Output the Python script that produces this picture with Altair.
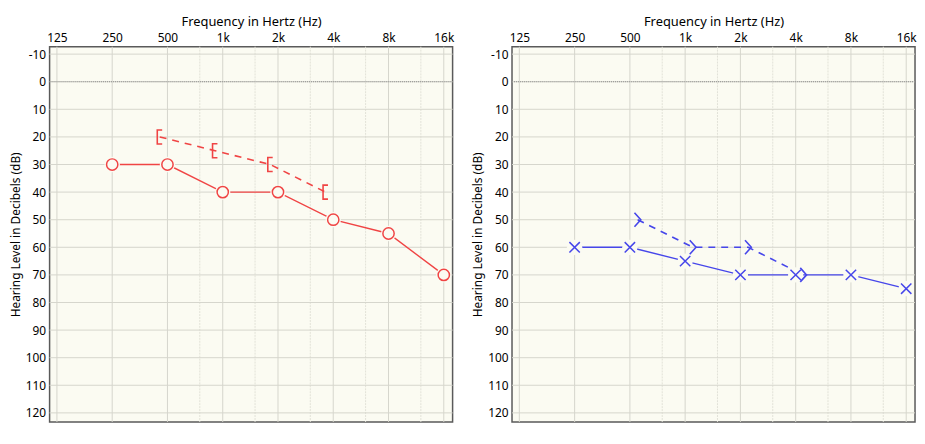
import altair as alt
import pandas as pd

# ---- data ----
FREQ_TICKS = [125, 250, 500, 1000, 2000, 4000, 8000, 16000]
FREQ_MINOR = [750, 1500, 3000, 6000, 12000]
DB_TICKS = list(range(-10, 130, 10))

AIR_FREQS = [250, 500, 1000, 2000, 4000, 8000, 16000]
BONE_FREQS = [500, 1000, 2000, 4000]
RED_AIR = [30, 30, 40, 40, 50, 55, 70]
RED_BONE = [20, 25, 30, 40]
BLUE_AIR = [60, 60, 65, 70, 70, 70, 75]
BLUE_BONE = [50, 60, 60, 70]

X_TITLE = "Frequency in Hertz (Hz)"
Y_TITLE = "Hearing Level in Decibels (dB)"

# ---- styling ----
X_DOMAIN = [114, 17870]
Y_DOMAIN = [-12.7, 123.3]
BG = "#fbfbf2"
GRID = "#d6d6cc"
GRID_MINOR = "#e2e2d8"
FONT = "Noto Sans"
W, H = 407, 379
RED = "#f04444"
BLUE = "#4646ea"

BRACKET = "M 0.35 -1 L -0.35 -1 L -0.35 1 L 0.35 1"
ANGLE = "M -0.45 -1 L 0.45 0 L -0.45 1"
XMARK = "M -1 -1 L 1 1 M -1 1 L 1 -1"

xs = alt.Scale(type="log", base=2, domain=X_DOMAIN, nice=False)
ys = alt.Scale(domain=Y_DOMAIN, reverse=True, nice=False, zero=False)

x_axis = alt.Axis(
    orient="top", values=FREQ_TICKS, title=X_TITLE, grid=False, ticks=False,
    domain=False, labelFontSize=12, titleFontSize=13, titleFontWeight="normal",
    labelPadding=2, titlePadding=3, labelFont=FONT, titleFont=FONT,
    labelColor="#000000", titleColor="#000000", labelOverlap=False,
    labelFlush=False,
    labelExpr="datum.value >= 1000 ? (datum.value / 1000) + 'k' : '' + datum.value",
)
y_axis = alt.Axis(
    values=DB_TICKS, title=Y_TITLE, grid=False, ticks=False, domain=False,
    labelFontSize=12, titleFontSize=12, titleFontWeight="normal",
    labelPadding=4, titlePadding=3, labelFont=FONT, titleFont=FONT,
    labelColor="#000000", titleColor="#000000", labelOverlap=False,
    labelExpr="'' + datum.value",
)


def X(field):
    return alt.X(f"{field}:Q", scale=xs, axis=x_axis)


def Y(field):
    return alt.Y(f"{field}:Q", scale=ys, axis=y_axis)


def panel(air, bone, color, air_shape, bone_shape, bone_shift):
    air_df = pd.DataFrame({"freq": AIR_FREQS, "db": air})
    bone_df = pd.DataFrame({"freq": BONE_FREQS, "db": bone})
    major_df = pd.DataFrame({"freq": FREQ_TICKS})
    minor_df = pd.DataFrame({"freq": FREQ_MINOR})
    db_df = pd.DataFrame({"db": DB_TICKS})
    zero_df = pd.DataFrame({"db": [0]})

    minor = alt.Chart(minor_df).mark_rule(color=GRID_MINOR, strokeWidth=1, strokeDash=[2, 1]).encode(
        x=X("freq")
    )
    major = alt.Chart(major_df).mark_rule(color=GRID, strokeWidth=1).encode(x=X("freq"))
    hgrid = alt.Chart(db_df).mark_rule(color=GRID, strokeWidth=1).encode(y=Y("db"))
    zero = alt.Chart(zero_df).mark_rule(color="#8a8a8a", strokeWidth=1, strokeDash=[1, 1]).encode(
        y=Y("db")
    )

    bone_base = alt.Chart(bone_df).transform_calculate(fx=f"datum.freq * {bone_shift}")
    bone_line = bone_base.mark_line(color=color, strokeWidth=1.6, strokeDash=[7, 6]).encode(
        x=X("fx"), y=Y("db")
    )
    bone_pts = bone_base.mark_point(shape=bone_shape, size=200, filled=False, color=color,
                                    strokeWidth=1.6, opacity=1).encode(x=X("fx"), y=Y("db"))

    air_base = alt.Chart(air_df)
    air_line = air_base.mark_line(color=color, strokeWidth=1.4).encode(x=X("freq"), y=Y("db"))
    air_gap = air_base.mark_point(shape="circle", size=240, filled=True, color=BG, opacity=1).encode(
        x=X("freq"), y=Y("db")
    )
    air_pts = air_base.mark_point(shape=air_shape, size=130 if air_shape == "circle" else 110,
                                  filled=False, color=color, strokeWidth=1.5, opacity=1).encode(
        x=X("freq"), y=Y("db")
    )

    return alt.layer(minor, major, hgrid, zero, bone_line, air_line, air_gap, bone_pts, air_pts).properties(
        width=W, height=H,
        view=alt.ViewBackground(fill=BG, stroke="#5a5a5a", strokeWidth=1.5),
    )


left = panel(RED_AIR, RED_BONE, RED, "circle", BRACKET, 2 ** -0.14)
right = panel(BLUE_AIR, BLUE_BONE, BLUE, XMARK, ANGLE, 2 ** 0.14)

chart = alt.hconcat(left, right, spacing=16).properties(
    padding={"left": 0, "top": 5, "right": 0, "bottom": 0}
).configure_view(
    fill=BG, stroke="#5a5a5a", strokeWidth=1.5
).configure(background="#ffffff")

chart.save("out.html", embed_options={"renderer": "svg", "actions": False})
